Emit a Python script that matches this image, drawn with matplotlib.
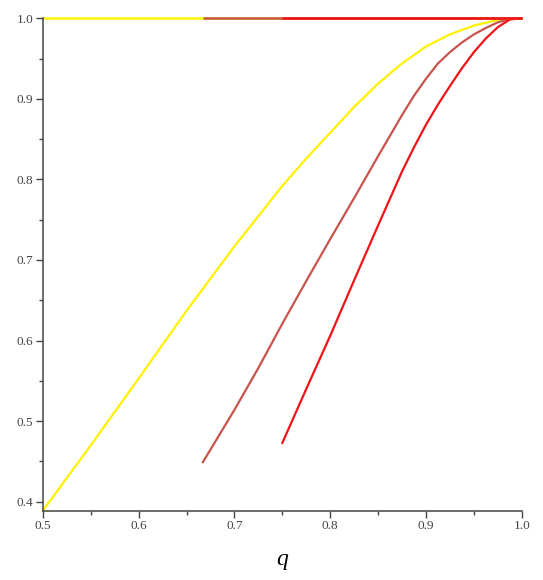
import numpy as np
import matplotlib.pyplot as plt
from matplotlib.ticker import MultipleLocator

# values
q_yellow = [0.5, 0.55, 0.6, 0.65, 0.7, 0.75, 0.775, 0.8, 0.825, 0.85, 0.875,
            0.9, 0.925, 0.95, 0.975, 1.0]
v_yellow = [0.389, 0.470, 0.553, 0.637, 0.717, 0.792, 0.826, 0.858, 0.890, 0.919, 0.944,
            0.965, 0.980, 0.991, 0.998, 1.0]

q_brown = [0.667, 0.7, 0.725, 0.75, 0.775, 0.8, 0.825, 0.85, 0.875, 0.8875, 0.9,
           0.9125, 0.925, 0.9375, 0.95, 0.9625, 0.975, 0.9875, 1.0]
v_brown = [0.449, 0.514, 0.566, 0.621, 0.674, 0.726, 0.777, 0.829, 0.880, 0.904, 0.925,
           0.944, 0.958, 0.970, 0.980, 0.988, 0.995, 0.999, 1.0]

q_red = [0.75, 0.775, 0.8, 0.825, 0.85, 0.875, 0.8875, 0.9, 0.9125, 0.925, 0.9375,
         0.95, 0.9625, 0.975, 0.9875, 1.0]
v_red = [0.473, 0.540, 0.606, 0.675, 0.743, 0.810, 0.840, 0.868, 0.893, 0.916, 0.938,
         0.958, 0.975, 0.989, 0.9985, 1.0]

# where each series sits at 1 (upper branch)
upper_start = [0.5, 0.667, 0.75]
upper_end = 1.0

colors = ['#fff200', '#c8544e', '#f01418']

plt.rcParams['font.family'] = ['Liberation Serif', 'DejaVu Serif']

fig = plt.figure(figsize=(5.43, 5.80), dpi=100)
ax = fig.add_axes([0.079, 0.1195, 0.882, 0.849])

lw = 1.6
ax.plot(q_yellow, v_yellow, color=colors[0], lw=lw, clip_on=False)
ax.plot(q_brown, v_brown, color=colors[1], lw=lw, clip_on=False)
ax.plot(q_red, v_red, color=colors[2], lw=lw, clip_on=False)
for s, c in zip(upper_start, colors):
    ax.plot([s, upper_end], [1.0, 1.0], color=c, lw=lw + 0.2, solid_capstyle='butt',
            clip_on=False)

ax.set_xlim(0.5, 1.0)
ax.set_ylim(0.3888, 1.0)

for side in ['top', 'right']:
    ax.spines[side].set_visible(False)
for side in ['left', 'bottom']:
    ax.spines[side].set_color('#444444')
    ax.spines[side].set_linewidth(1.1)

ax.xaxis.set_major_locator(MultipleLocator(0.1))
ax.xaxis.set_minor_locator(MultipleLocator(0.05))
ax.yaxis.set_major_locator(MultipleLocator(0.1))
ax.yaxis.set_minor_locator(MultipleLocator(0.05))
ax.xaxis.set_major_formatter(plt.FormatStrFormatter('%.1f'))
ax.yaxis.set_major_formatter(plt.FormatStrFormatter('%.1f'))
ax.tick_params(which='major', direction='out', length=5, width=1, color='#444444',
               labelsize=9.5, labelcolor='#444444', pad=2)
ax.tick_params(which='minor', direction='out', length=3, width=1, color='#444444')

ax.set_xlabel('q', fontsize=17, style='italic', labelpad=12)

fig.savefig('out.png', dpi=100)
